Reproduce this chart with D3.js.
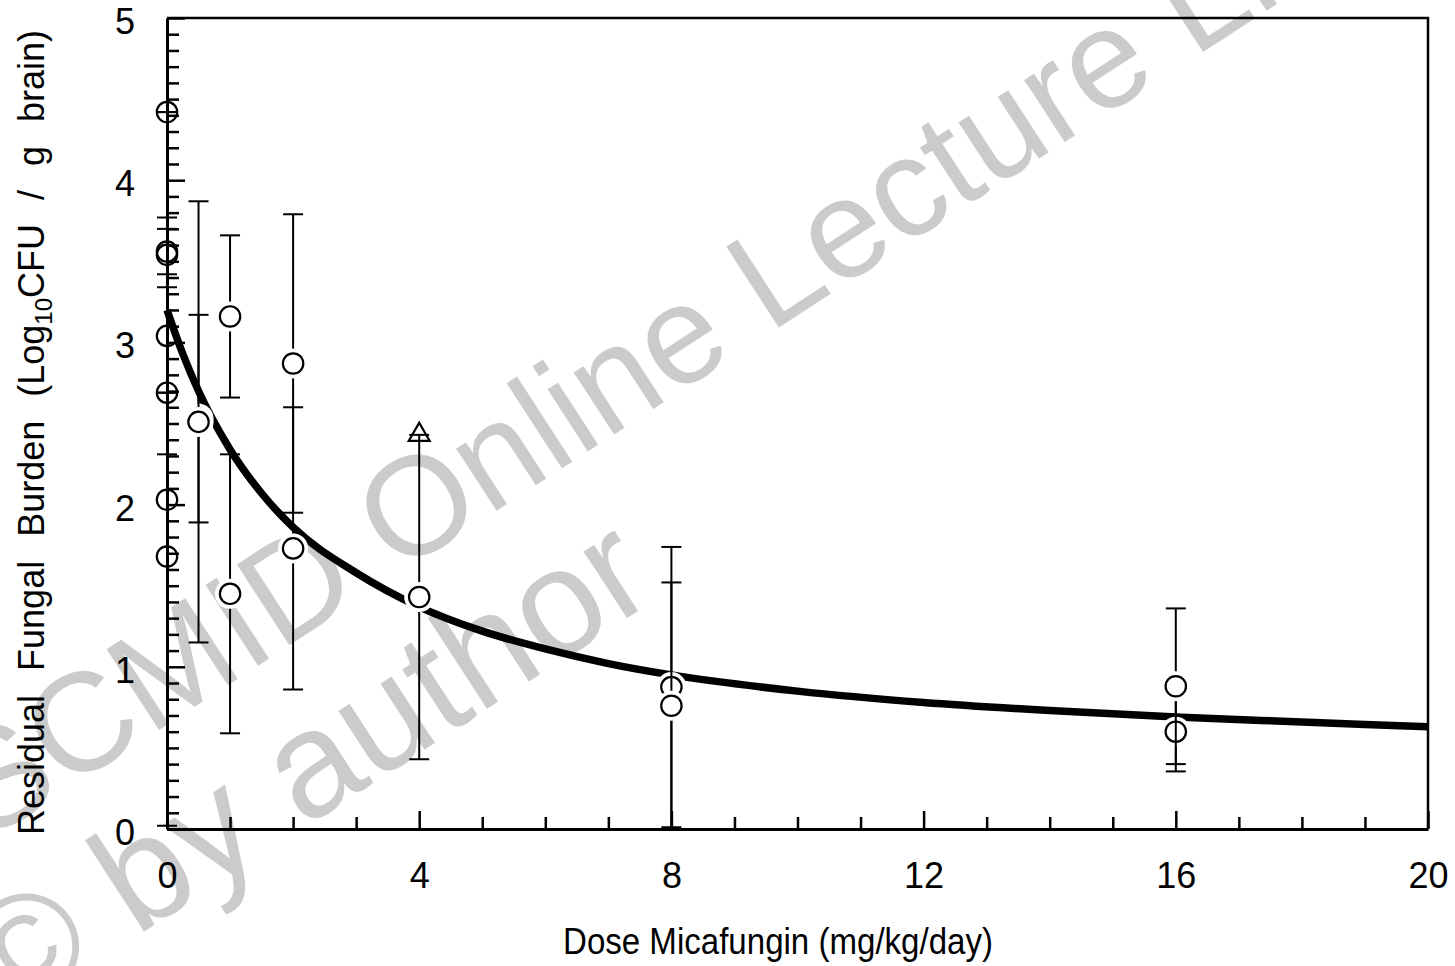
<!DOCTYPE html>
<html>
<head>
<meta charset="utf-8">
<script src="https://cdn.jsdelivr.net/npm/d3@7"></script>
<style>
  html, body { margin: 0; padding: 0; background: #ffffff; }
  svg { display: block; }
  text { font-family: "Liberation Sans", Arial, sans-serif; }
</style>
</head>
<body>
<script>
// ---------------- data ----------------
const xTickLabels = [0, 4, 8, 12, 16, 20];
const yTickLabels = [0, 1, 2, 3, 4, 5];

// observed groups: dose (mg/kg/day), mean log10 CFU/g, SD (null = no bar)
const obsDose = [0, 0, 0, 0, 0, 0, 0, 0.5, 0.5, 1, 1, 2, 2, 4, 8, 8, 16, 16];
const obsMean = [4.42, 3.56, 3.54, 3.04, 2.69, 2.03, 1.68, 2.53, 2.51, 3.16, 1.45, 2.87, 1.73, 1.43, 0.875, 0.76, 0.60, 0.88];
const obsSD   = [0, 0.14, null, 0.73, 0, null, 1.66, 0.64, 1.36, 0.50, 0.86, 0.92, 0.87, 1.0, 0.864, 0.76, 0.245, 0.48];

// second marker series (open triangle)
const triDose = [4];
const triMean = [2.43];

// fitted curve
const curveDose   = [0, 0.25, 0.5, 1, 1.5, 2, 3, 4, 5, 6, 7, 8, 10, 12, 14, 16, 18, 20];
const curveEffect = [3.20, 2.93, 2.70, 2.34, 2.07, 1.86, 1.58, 1.37, 1.22, 1.11, 1.02, 0.95, 0.85, 0.78, 0.73, 0.69, 0.66, 0.63];

const xTitle = "Dose Micafungin (mg/kg/day)";
const watermark1 = "ESCMID Online Lecture Library";
const watermark2 = "\u00A9 by author";

// ---------------- layout ----------------
const W = 1455, H = 966;
const L = 167, R = 1428, T = 18, B = 829;

const svg = d3.select("body").append("svg").attr("width", W).attr("height", H);

const x = d3.scaleLinear().domain([0, 20]).range([L, R]);
const y = d3.scaleLinear().domain([0, 5]).range([B, T]);

// watermark (under everything)
const wm = svg.append("g").attr("fill", "#cbcbcb");
wm.append("text").attr("transform", "translate(-92,893) rotate(-33)")
  .style("font-size", "140px").text(watermark1);
wm.append("text").attr("transform", "translate(8,1020) rotate(-33)")
  .style("font-size", "150px").text(watermark2);

// frame (top and right)
svg.append("path")
  .attr("d", `M${L},${T}H${R}V${B}`)
  .attr("fill", "none").attr("stroke", "#000").attr("stroke-width", 2.5);

// fitted curve
const curvePts = curveDose.map((d, i) => [d, curveEffect[i]]);
svg.append("path")
  .datum(curvePts)
  .attr("fill", "none").attr("stroke", "#000").attr("stroke-width", 7.5)
  .attr("d", d3.line().x(d => x(d[0])).y(d => y(d[1])).curve(d3.curveMonotoneX));

// observed data: bars + markers
const obs = obsDose.map((d, i) => ({ dose: d, mean: obsMean[i], sd: obsSD[i] }));
const capW = 10;
const gObs = svg.append("g");
obs.forEach(o => {
  const g = gObs.append("g");
  const cx = x(o.dose);
  if (o.sd !== null) {
    const lo = Math.max(0, o.mean - o.sd), hi = o.mean + o.sd;
    g.append("line").attr("x1", cx).attr("x2", cx).attr("y1", y(lo)).attr("y2", y(hi))
      .attr("stroke", "#000").attr("stroke-width", 2);
    [lo, hi].forEach(v => {
      g.append("line").attr("x1", cx - capW).attr("x2", cx + capW).attr("y1", y(v)).attr("y2", y(v))
        .attr("stroke", "#000").attr("stroke-width", 2);
    });
  }
  if (o.dose > 0) {
    g.append("circle").attr("cx", cx).attr("cy", y(o.mean)).attr("r", 15).attr("fill", "#fff");
  }
  g.append("circle").attr("cx", cx).attr("cy", y(o.mean)).attr("r", 10.2)
    .attr("fill", o.dose > 0 ? "#fff" : "none").attr("stroke", "#000").attr("stroke-width", 2.2);
});

// triangle series
svg.append("g").selectAll("path").data(triDose.map((d, i) => ({ dose: d, mean: triMean[i] })))
  .join("path")
  .attr("transform", d => `translate(${x(d.dose)},${y(d.mean)})`)
  .attr("d", d3.symbol(d3.symbolTriangle, 190))
  .attr("fill", "none").attr("stroke", "#000").attr("stroke-width", 2.2);

// ---------------- axes ----------------
const fontPx = 36;
// x minor ticks
const xMinor = d3.range(0, 21, 1).filter(v => v % 4 !== 0);
svg.append("g").attr("transform", `translate(0,${B})`)
  .call(d3.axisBottom(x).tickValues(xMinor).tickSize(-12).tickFormat(""))
  .call(g => g.select(".domain").remove())
  .call(g => g.selectAll("line").attr("stroke-width", 2.5));
// x major
const xAx = svg.append("g").attr("transform", `translate(0,${B})`)
  .call(d3.axisBottom(x).tickValues(xTickLabels).tickSize(-18).tickSizeOuter(0).tickPadding(33).tickFormat(d3.format("d")));
xAx.select(".domain").attr("stroke-width", 3);
xAx.selectAll("line").attr("stroke-width", 2.5);
xAx.selectAll("text").style("font-size", fontPx + "px").attr("fill", "#000");

// y minor
const yMinor = d3.range(1, 50).filter(v => v % 10 !== 0).map(v => v / 10);
svg.append("g").attr("transform", `translate(${L},0)`)
  .call(d3.axisLeft(y).tickValues(yMinor).tickSize(-12).tickFormat(""))
  .call(g => g.select(".domain").remove())
  .call(g => g.selectAll("line").attr("stroke-width", 2.5));
const yAx = svg.append("g").attr("transform", `translate(${L},0)`)
  .call(d3.axisLeft(y).tickValues(yTickLabels).tickSize(-18).tickSizeOuter(0).tickPadding(32).tickFormat(d3.format("d")));
yAx.select(".domain").attr("stroke-width", 3);
yAx.selectAll("line").attr("stroke-width", 2.5);
yAx.selectAll("text").style("font-size", fontPx + "px").attr("fill", "#000").attr("dy", "0.43em");

// ---------------- titles ----------------
svg.append("text")
  .attr("x", 563).attr("y", 954)
  .attr("textLength", 430).attr("lengthAdjust", "spacingAndGlyphs")
  .style("font-size", fontPx + "px").text(xTitle);

const yt = svg.append("text")
  .attr("transform", "translate(44,835) rotate(-90)")
  .style("font-size", fontPx + "px")
  .style("word-spacing", "14px")
  .style("white-space", "pre");
yt.append("tspan").text("Residual Fungal Burden (Log");
yt.append("tspan").attr("dy", 8).style("font-size", "24px").text("10");
yt.append("tspan").attr("dy", -8).text("CFU / g brain)");
</script>
</body>
</html>
